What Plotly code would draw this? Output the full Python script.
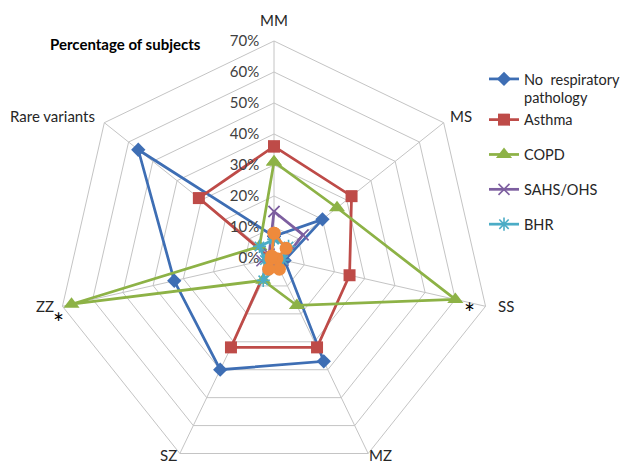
import plotly.graph_objects as go

categories = ["MM", "MS", "SS", "MZ", "SZ", "ZZ", "Rare variants"]

no_resp = [7, 20, 3.5, 37, 40, 33, 56]
asthma = [36, 32, 25, 32, 32, 1, 31]
copd = [31, 26, 60, 17, 8, 67, 6]
sahs = [15, 12, 3, 2, 2, 4, 2]
bhr = [6, 6, 3, 3, 8, 3, 6]
other = [8, 5, 1, 4, 4, 1, 1]

radial_ticks = [0, 10, 20, 30, 40, 50, 60, 70]

# page body has an 8px default margin; the figure is drawn a bit taller than the
# window so that the chart can be as large as in the reference (whose bottom is cropped)
OFF = 8
W, H = 631, 490
FONT = "Lato"

series = [
    ("No  respiratory<br>pathology", no_resp, "#3E6EB4", "diamond", 11, "g1", True),
    ("Asthma", asthma, "#BE4B48", "square", 12, "g1", True),
    ("COPD", copd, "#8DB246", "triangle-up", 14, "g2", True),
    ("SAHS/OHS", sahs, "#7D5FA0", "x-thin", 11, "g3", True),
    ("BHR", bhr, "#4BACC6", "asterisk", 11, "g4", True),
    ("Other", other, "#EE8A3C", "circle", 13, "g5", False),
]

fig = go.Figure()
for name, vals, color, sym, size, grp, show in series:
    is_open = sym in ("x-thin", "asterisk")
    fig.add_trace(go.Scatterpolar(
        r=vals + vals[:1],
        theta=categories + categories[:1],
        name=name,
        mode="lines+markers",
        line=dict(color=color, width=2.75),
        marker=dict(symbol=sym + ("-open" if is_open else ""), size=size, color=color,
                    line=dict(color=color, width=1.6 if is_open else 0)),
        legendgroup=grp,
        showlegend=show,
    ))

# screen pixel -> paper fraction
sx = lambda x: (x - OFF) / W
sy = lambda y: 1 - (y - OFF) / H

CX, CY, R = 274, 258, 217  # chart centre and 70% radius on screen

label_pos = {
    "MM": (274, 20, "center", "middle"),
    "MS": (461, 116, "center", "middle"),
    "SS": (506, 306, "center", "middle"),
    "MZ": (380, 466, "center", "bottom"),
    "SZ": (168, 466, "center", "bottom"),
    "ZZ": (45, 306, "center", "middle"),
    "Rare variants": (97, 116, "right", "middle"),
}

annotations = [
    dict(text="<b>Percentage of subjects</b>", x=sx(126), y=sy(44), xref="paper", yref="paper",
         xanchor="center", yanchor="middle",
         showarrow=False, font=dict(family=FONT, size=15, color="#000000")),
    dict(text="*", x=sx(58), y=sy(323), xref="paper", yref="paper",
         xanchor="center", yanchor="middle",
         showarrow=False, font=dict(family=FONT, size=26, color="#000000")),
    dict(text="*", x=sx(470), y=sy(313), xref="paper", yref="paper",
         xanchor="center", yanchor="middle",
         showarrow=False, font=dict(family=FONT, size=26, color="#000000")),
]
for cat in categories:
    x, y, xa, ya = label_pos[cat]
    annotations.append(dict(text=cat, x=sx(x), y=sy(y), xref="paper", yref="paper",
                            xanchor=xa, yanchor=ya, showarrow=False,
                            font=dict(family=FONT, size=15, color="#262626")))

fig.update_layout(
    width=W, height=H,
    margin=dict(l=0, r=0, t=0, b=0),
    paper_bgcolor="white",
    font=dict(family=FONT, size=14, color="#262626"),
    polar=dict(
        domain=dict(x=[sx(CX - R), sx(CX + R)], y=[sy(CY + R), sy(CY - R)]),
        bgcolor="white",
        gridshape="linear",
        angularaxis=dict(
            type="category",
            categoryarray=categories,
            direction="clockwise",
            rotation=90,
            showline=True, linecolor="#c4c4c4", linewidth=1,
            gridcolor="#c4c4c4", gridwidth=1,
            ticks="",
            showticklabels=False,
        ),
        radialaxis=dict(
            range=[0, 70],
            tickvals=radial_ticks,
            ticktext=[f"{v}%" for v in radial_ticks],
            angle=90, tickangle=90,
            side="counterclockwise",
            showline=False,
            gridcolor="#c4c4c4", gridwidth=1,
            ticks="outside", ticklen=9, tickcolor="rgba(0,0,0,0)",
            tickfont=dict(family=FONT, size=15, color="#404040"),
        ),
    ),
    legend=dict(
        x=sx(484), y=sy(63), xanchor="left", yanchor="top",
        font=dict(family=FONT, size=14.5, color="#262626"),
        tracegroupgap=13,
        valign="top",
        bgcolor="rgba(0,0,0,0)",
    ),
    annotations=annotations,
)

fig.write_html("out.html")
